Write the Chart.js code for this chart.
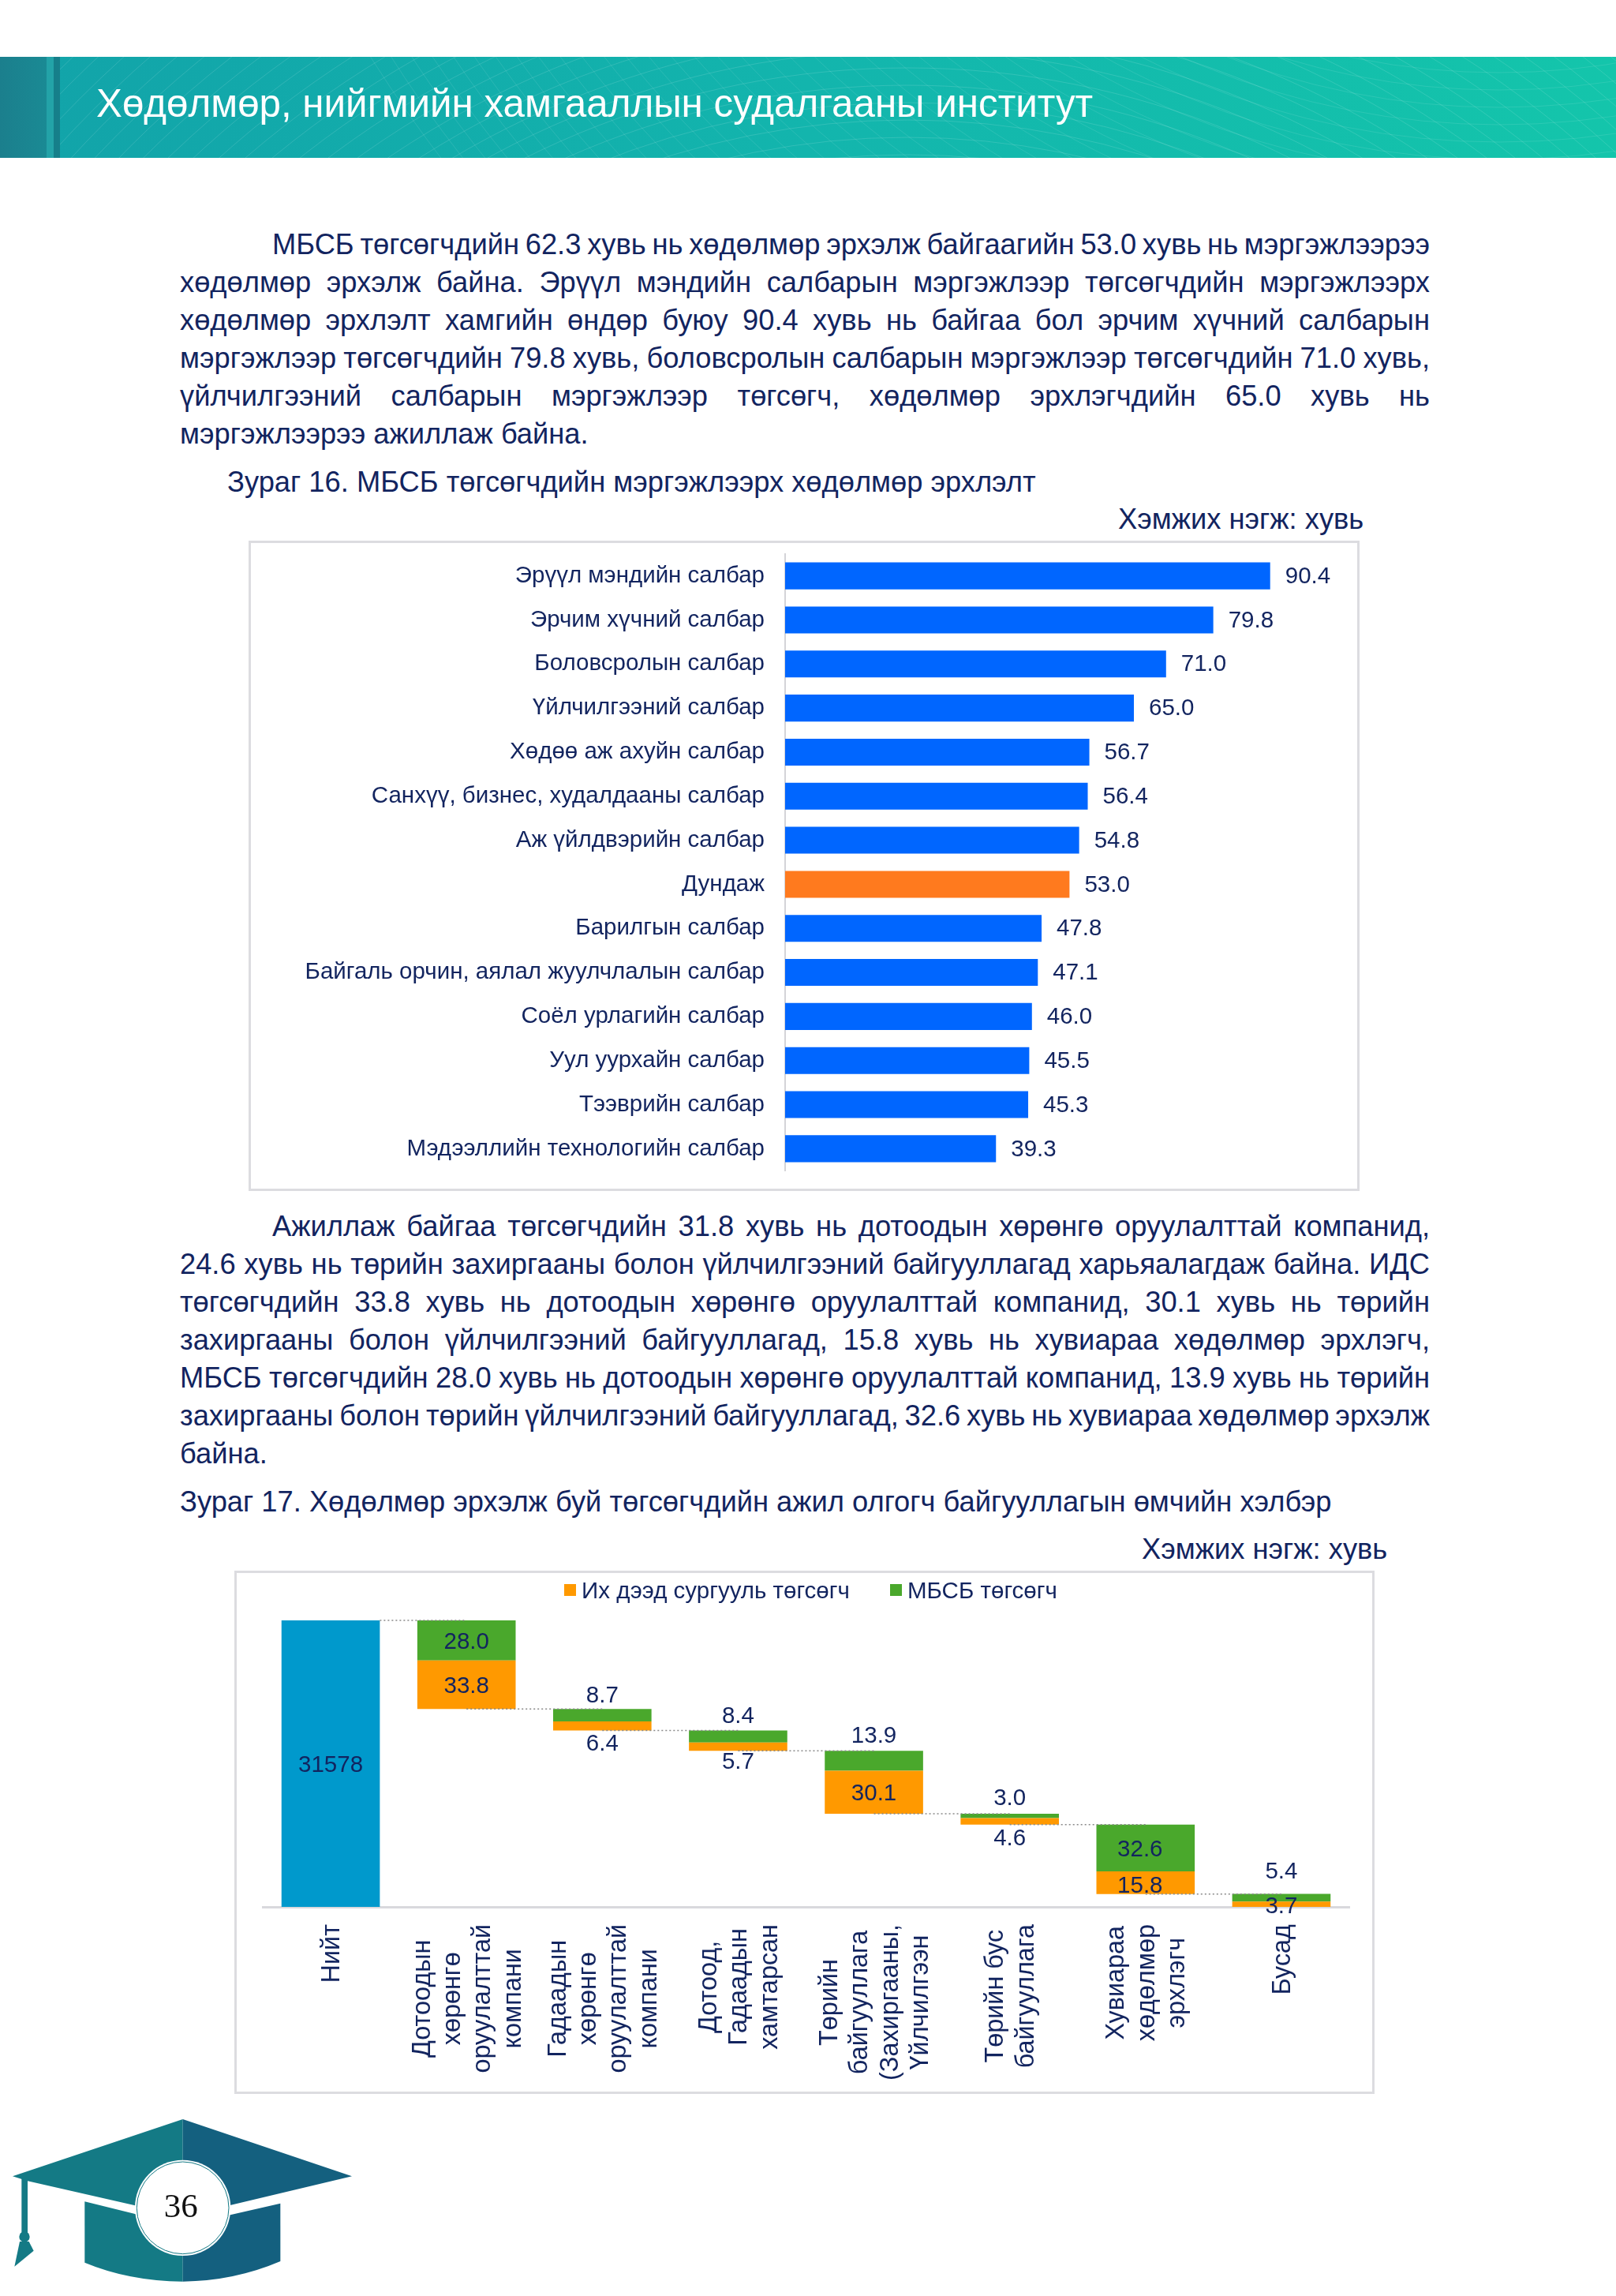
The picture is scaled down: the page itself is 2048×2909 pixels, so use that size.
<!DOCTYPE html>
<html>
<head>
<meta charset="utf-8">
<script src="https://cdn.jsdelivr.net/npm/chart.js@4"></script>
<style>
    html, body { margin: 0; padding: 0; background: #fff; }
    body { position: relative; width: 2048px; height: 2909px; overflow: hidden; font-family: "Liberation Sans", Arial, sans-serif; color: #12245f; }
    .abs { position: absolute; white-space: nowrap; }
    .header { left: 0; top: 72px; width: 2048px; height: 128px; background: linear-gradient(90deg, #12a3a9 0%, #13b5ad 50%, #14c5ab 100%); overflow: hidden; }
    .title { left: 122px; top: 101px; font-size: 49.3px; line-height: 60px; color: #fff; }
    .para { left: 228px; width: 1584px; font-size: 36.3px; line-height: 48px; }
    .para div { white-space: nowrap; }
    .para div.first { margin-left: 117px; }
    .para span { display: inline-block; }
    .caption, .unit { font-size: 36.3px; line-height: 48px; }
    .box { border: 3px solid #dcdce0; box-sizing: border-box; }
    canvas { position: absolute; }
</style>
</head>
<body>
<div class="abs header">
    <svg id="mesh" width="2048" height="128" style="position:absolute;left:0;top:0"></svg>
    <div class="abs" style="left:0;top:0;width:59px;height:128px;background:linear-gradient(90deg,#1b7f8d,#1a8a94)"></div>
    <div class="abs" style="left:59px;top:0;width:9px;height:128px;background:#23a3a8"></div>
    <div class="abs" style="left:68px;top:0;width:8px;height:128px;background:#167f8a"></div>
</div>
<div class="abs title">Хөдөлмөр, нийгмийн хамгааллын судалгааны институт</div>

<div class="abs para" style="top:286px">
    <div class="first"><span>МБСБ төгсөгчдийн 62.3 хувь нь хөдөлмөр эрхэлж байгаагийн 53.0 хувь нь мэргэжлээрээ</span></div>
    <div><span>хөдөлмөр эрхэлж байна. Эрүүл мэндийн салбарын мэргэжлээр төгсөгчдийн мэргэжлээрх</span></div>
    <div><span>хөдөлмөр эрхлэлт хамгийн өндөр буюу 90.4 хувь нь байгаа бол эрчим хүчний салбарын</span></div>
    <div><span>мэргэжлээр төгсөгчдийн 79.8 хувь, боловсролын салбарын мэргэжлээр төгсөгчдийн 71.0 хувь,</span></div>
    <div><span>үйлчилгээний салбарын мэргэжлээр төгсөгч, хөдөлмөр эрхлэгчдийн 65.0 хувь нь</span></div>
    <div class="last">мэргэжлээрээ ажиллаж байна.</div>
</div>
<div class="abs caption" style="left:288px;top:587px">Зураг 16. МБСБ төгсөгчдийн мэргэжлээрх хөдөлмөр эрхлэлт</div>
<div class="abs unit" style="left:1417px;top:634px">Хэмжих нэгж: хувь</div>

<div class="abs box" style="left:315px;top:685px;width:1408px;height:824px"></div>
<canvas id="sector-chart" width="1408" height="869" style="left:315px;top:658px"></canvas>

<div class="abs para" style="top:1530px">
    <div class="first"><span>Ажиллаж байгаа төгсөгчдийн 31.8 хувь нь дотоодын хөрөнгө оруулалттай компанид,</span></div>
    <div><span>24.6 хувь нь төрийн захиргааны болон үйлчилгээний байгууллагад харьяалагдаж байна. ИДС</span></div>
    <div><span>төгсөгчдийн 33.8 хувь нь дотоодын хөрөнгө оруулалттай компанид, 30.1 хувь нь төрийн</span></div>
    <div><span>захиргааны болон үйлчилгээний байгууллагад, 15.8 хувь нь хувиараа хөдөлмөр эрхлэгч,</span></div>
    <div><span>МБСБ төгсөгчдийн 28.0 хувь нь дотоодын хөрөнгө оруулалттай компанид, 13.9 хувь нь төрийн</span></div>
    <div><span>захиргааны болон төрийн үйлчилгээний байгууллагад, 32.6 хувь нь хувиараа хөдөлмөр эрхэлж</span></div>
    <div class="last">байна.</div>
</div>
<div class="abs caption" style="left:228px;top:1879px">Зураг 17. Хөдөлмөр эрхэлж буй төгсөгчдийн ажил олгогч байгууллагын өмчийн хэлбэр</div>
<div class="abs unit" style="left:1447px;top:1939px">Хэмжих нэгж: хувь</div>

<div class="abs box" style="left:297px;top:1990px;width:1445px;height:663px"></div>
<canvas id="waterfall-chart" width="1445" height="663" style="left:297px;top:1990px"></canvas>

<svg class="abs" style="left:0;top:2650px" width="500" height="259" viewBox="0 0 1500 777">
    <polygon points="48,322 695,105 695,478 510,432 105,340" fill="#147a85"/>
    <polygon points="695,105 1338,322 875,432 695,478" fill="#14607f"/>
    <path d="M322,418 L695,510 L695,722 Q490,720 322,650 Z" fill="#147a85"/>
    <path d="M695,510 L1066,425 L1066,645 Q890,720 695,722 Z" fill="#14607f"/>
    <rect x="82" y="330" width="23" height="215" fill="#147a85"/>
    <circle cx="93" cy="552" r="20" fill="#147a85"/>
    <polygon points="75,570 110,570 128,605 55,665" fill="#147a85"/>
    <circle cx="695" cy="442" r="182" fill="#fff"/>
    <circle cx="695" cy="442" r="175" fill="none" stroke="#147a85" stroke-width="3"/>
    <text x="688" y="478" text-anchor="middle" font-family="Liberation Serif" font-size="129" fill="#111">36</text>
</svg>

<script>
    // chart 16
    const sectors = ['Эрүүл мэндийн салбар', 'Эрчим хүчний салбар', 'Боловсролын салбар', 'Үйлчилгээний салбар',
        'Хөдөө аж ахуйн салбар', 'Санхүү, бизнес, худалдааны салбар', 'Аж үйлдвэрийн салбар', 'Дундаж',
        'Барилгын салбар', 'Байгаль орчин, аялал жуулчлалын салбар', 'Соёл урлагийн салбар',
        'Уул уурхайн салбар', 'Тээврийн салбар', 'Мэдээллийн технологийн салбар'];
    const sectorValues = [90.4, 79.8, 71.0, 65.0, 56.7, 56.4, 54.8, 53.0, 47.8, 47.1, 46.0, 45.5, 45.3, 39.3];

    // chart 17
    const orgTypes = [['Нийт'],
        ['Дотоодын', 'хөрөнгө', 'оруулалттай', 'компани'],
        ['Гадаадын', 'хөрөнгө', 'оруулалттай', 'компани'],
        ['Дотоод,', 'Гадаадын', 'хамтарсан'],
        ['Төрийн', 'байгууллага', '(Захиргааны,', 'Үйлчилгээн'],
        ['Төрийн бус', 'байгууллага'],
        ['Хувиараа', 'хөдөлмөр', 'эрхлэгч'],
        ['Бусад']];
    const higherEd = [null, 33.8, 6.4, 5.7, 30.1, 4.6, 15.8, 3.7];
    const mbsb = [null, 28.0, 8.7, 8.4, 13.9, 3.0, 32.6, 5.4];
    const totalBar = [200, null, null, null, null, null, null, null];
    const totalCount = 31578;

    const navy = '#12245f';
    const labelFont = '29.5px "Liberation Sans"';

    // justified lines: squeeze or stretch the word gaps so each line ends at the right margin
    document.querySelectorAll('.para span').forEach(function (line) {
        const wanted = line.parentElement.clientWidth;
        const gaps = line.textContent.split(' ').length - 1;
        const extra = (wanted - line.getBoundingClientRect().width) / gaps;
        line.style.wordSpacing = extra + 'px';
    });

    // the floating steps hang from whatever is still left of the total
    let left = totalBar[0];
    const spacer = orgTypes.map(function (t, i) {
        if (i == 0) return null;
        left -= higherEd[i] + mbsb[i];
        return left;
    });

    // header mesh
    let meshHtml = '';
    for (let r = 300; r < 1300; r += 22) {
        meshHtml += '<circle cx="1150" cy="1100" r="' + (r + 500) + '" fill="none" stroke="#fff" stroke-opacity="0.13"/>';
        meshHtml += '<circle cx="1900" cy="-900" r="' + (r + 400) + '" fill="none" stroke="#fff" stroke-opacity="0.10"/>';
    }
    document.getElementById('mesh').innerHTML = meshHtml;

    const sectorLabels = {
        id: 'sectorLabels',
        afterDatasetsDraw: function (chart) {
            const ctx = chart.ctx;
            ctx.save();
            ctx.font = labelFont;
            ctx.fillStyle = navy;
            ctx.textBaseline = 'middle';
            chart.getDatasetMeta(0).data.forEach(function (bar, i) {
                ctx.fillText(sectorValues[i].toFixed(1), bar.x + 19, bar.y + 1);
            });
            ctx.restore();
        }
    };

    new Chart(document.getElementById('sector-chart'), {
        type: 'bar',
        data: {
            labels: sectors,
            datasets: [{
                data: sectorValues,
                backgroundColor: sectors.map(function (s) { return s == 'Дундаж' ? '#ff7a1e' : '#0066ff'; }),
                barPercentage: 0.61,
                categoryPercentage: 1
            }]
        },
        options: {
            indexAxis: 'y',
            responsive: false,
            animation: false,
            layout: { padding: { top: 17, bottom: 27, right: 48 } },
            plugins: { legend: { display: false }, tooltip: { enabled: false } },
            scales: {
                x: { display: false, min: 0, max: 100 },
                y: {
                    grid: { display: false, drawTicks: false },
                    border: { color: '#d4d4d8', width: 2 },
                    ticks: { color: navy, font: { family: 'Liberation Sans', size: 29.5 }, padding: 26, autoSkip: false },
                    afterFit: function (scale) { scale.width = 680; }
                }
            }
        },
        plugins: [sectorLabels]
    });

    const aboveGap = [0, 0, 18, 20, 20, 21, 0, 30];
    const belowGap = [0, 0, 15, 13, 0, 16, 0, -2];
    const insideFrom = 15;
    const insideShiftX = [0, 0, 0, 0, 0, 0, -7, 0];
    const textDrop = 2;

    const waterfallExtras = {
        id: 'waterfallExtras',
        afterDatasetsDraw: function (chart) {
            const ctx = chart.ctx;
            const x = chart.scales.x;
            const y = chart.scales.y;
            const total = chart.getDatasetMeta(3).data[0];

            // dotted connectors, each one runs at the level the next step starts from
            ctx.save();
            ctx.strokeStyle = '#8a8a8a';
            ctx.lineWidth = 1.5;
            ctx.setLineDash([2, 3]);
            orgTypes.forEach(function (t, i) {
                if (i == orgTypes.length - 1) return;
                const level = i == 0 ? totalBar[0] : spacer[i];
                const from = x.getPixelForTick(i) + (i == 0 ? total.width / 2 : 0);
                ctx.beginPath();
                ctx.moveTo(from, y.getPixelForValue(level));
                ctx.lineTo(x.getPixelForTick(i + 1), y.getPixelForValue(level));
                ctx.stroke();
            });
            ctx.restore();

            // value labels
            ctx.save();
            ctx.font = labelFont;
            ctx.fillStyle = navy;
            ctx.textAlign = 'center';
            ctx.textBaseline = 'middle';
            ctx.fillText(String(totalCount), total.x, y.getPixelForValue(totalBar[0] / 2) + textDrop);
            [[1, higherEd, false], [2, mbsb, true]].forEach(function (set) {
                const bars = chart.getDatasetMeta(set[0]).data;
                set[1].forEach(function (v, i) {
                    if (v == null) return;
                    const bar = bars[i];
                    let px = bar.x;
                    let py = (bar.y + bar.base) / 2;
                    if (v < insideFrom) {
                        py = set[2] ? bar.y - aboveGap[i] : bar.base + belowGap[i];
                    } else {
                        px += insideShiftX[i];
                        if (!set[2] && i == 6) py += 3;  // 15.8 sits low in its bar
                    }
                    ctx.fillText(v.toFixed(1), px, py + textDrop);
                });
            });
            ctx.restore();
        },
        afterDraw: function (chart) {
            const ctx = chart.ctx;
            const x = chart.scales.x;

            // rotated category labels, lines centred on the longest one
            ctx.save();
            ctx.font = '32.4px "Liberation Sans"';
            ctx.fillStyle = navy;
            ctx.textAlign = 'center';
            ctx.textBaseline = 'middle';
            orgTypes.forEach(function (lines, i) {
                const longest = Math.max.apply(null, lines.map(function (l) { return ctx.measureText(l).width; }));
                ctx.save();
                ctx.translate(x.getPixelForTick(i) + 2, 448);
                ctx.rotate(-Math.PI / 2);
                lines.forEach(function (l, n) {
                    ctx.fillText(l, -longest / 2, (n - (lines.length - 1) / 2) * 38.3);
                });
                ctx.restore();
            });
            ctx.restore();

            // legend
            ctx.save();
            ctx.font = labelFont;
            ctx.textBaseline = 'middle';
            [[1, 418], [2, 831]].forEach(function (item) {
                const ds = chart.data.datasets[item[0]];
                ctx.fillStyle = ds.backgroundColor;
                ctx.fillRect(item[1], 17, 15, 15);
                ctx.fillStyle = navy;
                ctx.fillText(ds.label, item[1] + 22, 27);
            });
            ctx.restore();
        }
    };

    new Chart(document.getElementById('waterfall-chart'), {
        type: 'bar',
        data: {
            labels: orgTypes,
            datasets: [
                { label: 'spacer', data: spacer, backgroundColor: 'transparent' },
                { label: 'Их дээд сургууль төгсөгч', data: higherEd, backgroundColor: '#ff9900' },
                { label: 'МБСБ төгсөгч', data: mbsb, backgroundColor: '#4aa82c' },
                { label: 'Нийт', data: totalBar, backgroundColor: '#0099cc' }
            ]
        },
        options: {
            responsive: false,
            animation: false,
            datasets: { bar: { barPercentage: 0.724, categoryPercentage: 1 } },
            layout: { padding: { top: 63, bottom: 237, left: 36, right: 32 } },
            plugins: { legend: { display: false }, tooltip: { enabled: false } },
            scales: {
                x: {
                    stacked: true,
                    grid: { display: false, drawTicks: false },
                    border: { color: '#d9d9dd', width: 3 },
                    ticks: { display: false }
                },
                y: { stacked: true, display: false, min: 0, max: totalBar[0] }
            }
        },
        plugins: [waterfallExtras]
    });
</script>
</body>
</html>
